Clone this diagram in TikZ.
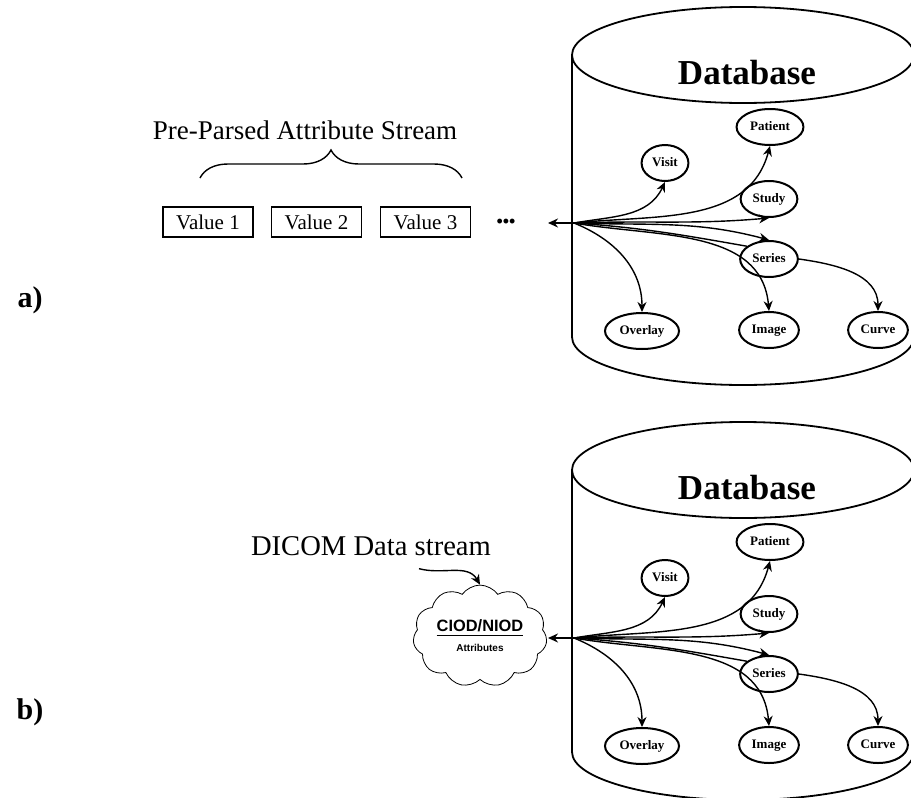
\documentclass[tikz,border=0pt]{standalone}
\usepackage{fontspec}
\setmainfont{Liberation Serif}
\newfontfamily\cloudfont{Liberation Sans}
\usetikzlibrary{shapes.geometric,shapes.symbols,arrows.meta,decorations.pathreplacing}
\tikzset{
  entity/.style={ellipse, draw, line width=1pt, inner xsep=1.9pt, inner ysep=0pt,
                 minimum height=18pt, text height=4.6pt, text depth=1.4pt,
                 font=\fontsize{6.5}{7}\selectfont\bfseries},
  link/.style={-{Stealth[length=5pt,width=4.5pt]}, line width=0.7pt},
  valbox/.style={draw, line width=0.9pt, minimum width=45pt, minimum height=15pt,
                 inner sep=0pt, font=\fontsize{10.5}{12}\selectfont},
  dbwall/.style={line width=0.9pt},
  panel/.style={font=\fontsize{15}{17}\selectfont\bfseries},
  headline/.style={font=\fontsize{13.5}{16}\selectfont},
}

\begin{document}
\begin{tikzpicture}[x=0.5pt,y=0.5pt]
  \useasboundingbox (0,0) rectangle (911,-798);
  \clip (0,0) rectangle (911,-798);
  % the two database cylinders
  \foreach \p/\dy in {A/0pt,B/-207.5pt}{
    \begin{scope}[yshift=\dy]
      \draw[dbwall] (743,-55) ellipse [x radius=171, y radius=48];
      \draw[dbwall] (572,-55) -- (572,-337)
        arc[start angle=180, end angle=360, x radius=171, y radius=48] -- (914,-55);
      \node[font=\fontsize{17.5}{20}\selectfont\bfseries] (db\p) at (747,-73) {Database};
      \node[entity] (patient\p) at (770,-127) {Patient};
      \node[entity] (visit\p) at (665,-163) {Visit};
      \node[entity] (study\p) at (769,-199) {Study};
      \node[entity] (series\p) at (769,-259) {Series};
      \node[entity] (overlay\p) at (642,-331) {Overlay};
      \node[entity] (image\p) at (769,-330) {Image};
      \node[entity] (curve\p) at (878,-330) {Curve};
      \coordinate (hub\p) at (574,-223);
      \coordinate (tip\p) at (548,-223);
      \draw[link] (hub\p) -- (tip\p);
      \draw[link] (hub\p) to[out=10,in=-115] (visit\p.south);
      \draw[link] (hub\p) to[out=6,in=-105] (patient\p.south);
      \draw[link] (hub\p) to[out=2,in=185] (study\p.south);
      \draw[link] (hub\p) to[out=-2,in=165] (series\p.north);
      \draw[line width=0.7pt] (hub\p) to[out=-4,in=170] (series\p.150);
      \draw[link] (hub\p) to[out=-22,in=90] (overlay\p.north);
      \draw[link] (hub\p) to[out=-10,in=95] (image\p.north);
      \draw[link] (series\p.east) to[out=-8,in=90] (curve\p.north);
    \end{scope}
  }
  % a) pre-parsed values
  \node[panel] (labA) at (30,-300) {a)};
  \node[headline] (stream) at (305,-130) {Pre-Parsed Attribute Stream};
  \draw[line width=0.7pt, decorate, decoration={brace, amplitude=14pt}]
    (200,-178) -- (462,-178);
  \node[valbox] (val1) at (208,-222) {Value 1};
  \node[valbox] (val2) at (316.5,-222) {Value 2};
  \node[valbox] (val3) at (425.5,-222) {Value 3};
  \node[font=\fontsize{9}{10}\selectfont\bfseries, inner sep=0pt] (more) at (506,-223)
    {\textbullet\textbullet\textbullet};
  % b) DICOM stream
  \node[panel] (labB) at (30,-712) {b)};
  \node[font=\fontsize{14.3}{17}\selectfont] (dicom) at (371,-546) {DICOM Data stream};
  \node[cloud, draw, cloud puffs=11, cloud puff arc=110, aspect=1.4,
        minimum width=67pt, minimum height=48pt, inner sep=0pt, align=center]
    (ciod) at (480,-636)
    {\cloudfont\bfseries\fontsize{8.2}{9}\selectfont\underline{CIOD/NIOD}\\[-2pt]
     \cloudfont\bfseries\fontsize{5}{6}\selectfont Attributes};
  \draw[link] ([xshift=24pt,yshift=-3pt]dicom.south) to[out=-15,in=120] (ciod.north);
\end{tikzpicture}
\end{document}
